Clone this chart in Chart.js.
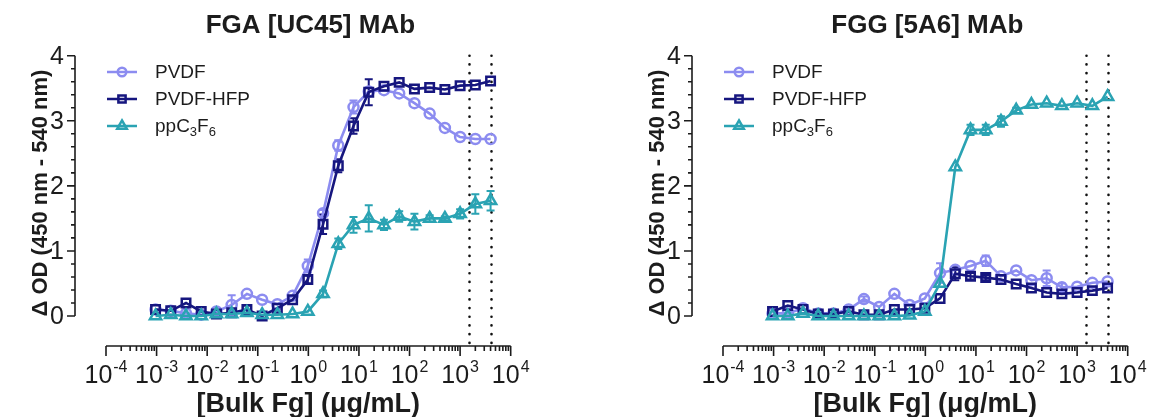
<!DOCTYPE html>
<html>
<head>
<meta charset="utf-8">
<script src="https://cdn.jsdelivr.net/npm/chart.js@4.4.1/dist/chart.umd.min.js"></script>
<style>
  body { margin: 0; background: #fff; width: 1151px; height: 417px; overflow: hidden; position: relative; }
  canvas { position: absolute; top: 0; }
</style>
</head>
<body>
<canvas id="chartFGA" width="534" height="417" style="left:0"></canvas>
<canvas id="chartFGG" width="534" height="417" style="left:617px"></canvas>
<script>
// concentrações (diluição 1:2 a partir de 4000 ug/mL)
const concentrations = [0.00095367, 0.0019073, 0.0038147, 0.0076294, 0.015259, 0.030518, 0.061035, 0.12207,
  0.24414, 0.48828, 0.97656, 1.9531, 3.9063, 7.8125, 15.625, 31.25, 62.5, 125, 250, 500, 1000, 2000, 4000];

const seriesNames = ['PVDF', 'PVDF-HFP', 'ppC3F6'];

// FGA [UC45] MAb
const fgaPvdf = [0.10, 0.08, 0.04, 0.02, 0.07, 0.17, 0.34, 0.25, 0.18, 0.31, 0.77, 1.58, 2.62, 3.21, 3.45, 3.47, 3.42, 3.27, 3.11, 2.89, 2.75, 2.72, 2.72];
const fgaPvdfErr = [0, 0, 0, 0, 0, 0.15, 0, 0, 0, 0, 0.1, 0.05, 0.08, 0.1, 0, 0, 0, 0, 0, 0, 0, 0, 0];
const fgaHfp = [0.10, 0.08, 0.20, 0.07, 0.03, 0.05, 0.10, 0.00, 0.12, 0.25, 0.56, 1.41, 2.31, 2.92, 3.44, 3.53, 3.59, 3.49, 3.51, 3.48, 3.54, 3.55, 3.61];
const fgaHfpErr = [0, 0, 0, 0, 0, 0, 0.06, 0, 0, 0, 0.06, 0.15, 0.1, 0.12, 0.2, 0, 0, 0, 0, 0, 0, 0, 0];
const fgaC3f6 = [0.0, 0.02, 0.0, 0.0, 0.03, 0.03, 0.05, 0.02, 0.02, 0.03, 0.07, 0.34, 1.11, 1.40, 1.50, 1.40, 1.53, 1.45, 1.50, 1.50, 1.57, 1.72, 1.77];
const fgaC3f6Err = [0, 0, 0, 0, 0, 0, 0, 0, 0, 0, 0, 0.05, 0.08, 0.12, 0.2, 0.08, 0.08, 0.12, 0.05, 0.03, 0.07, 0.15, 0.15];

// FGG [5A6] MAb
const fggPvdf = [0.04, 0.04, 0.12, 0.04, 0.04, 0.10, 0.26, 0.14, 0.34, 0.17, 0.27, 0.66, 0.71, 0.77, 0.85, 0.61, 0.70, 0.55, 0.58, 0.44, 0.45, 0.51, 0.53];
const fggPvdfErr = [0, 0, 0, 0, 0, 0, 0.04, 0, 0, 0, 0, 0.15, 0, 0, 0.08, 0, 0, 0, 0.12, 0.06, 0, 0, 0];
const fggHfp = [0.07, 0.16, 0.10, 0.03, 0.03, 0.07, 0.02, 0.02, 0.10, 0.10, 0.12, 0.27, 0.65, 0.61, 0.59, 0.56, 0.49, 0.43, 0.36, 0.34, 0.36, 0.39, 0.43];
const fggHfpErr = [0, 0, 0, 0, 0, 0, 0, 0, 0, 0, 0, 0, 0.1, 0.05, 0.04, 0, 0, 0, 0, 0, 0, 0, 0];
const fggC3f6 = [0.0, 0.0, 0.04, 0.0, 0.0, 0.0, 0.0, 0.0, 0.0, 0.01, 0.07, 0.50, 2.29, 2.86, 2.86, 2.99, 3.16, 3.25, 3.27, 3.23, 3.27, 3.23, 3.37];
const fggC3f6Err = [0, 0, 0, 0, 0, 0, 0, 0, 0, 0, 0, 0, 0, 0.08, 0.08, 0.08, 0.04, 0, 0, 0, 0, 0, 0];

const xTickExponents = [-4, -3, -2, -1, 0, 1, 2, 3, 4];
const yTicks = [0, 1, 2, 3, 4];
const physioRange = [1500, 4000]; // linhas pontilhadas

const COLORS = ['#8c8cf0', '#16167f', '#2aa3b3'];
const STYLES = ['circle', 'rect', 'triangle'];
const RADII = [5, 6, 6.5];
const FONT = '"Liberation Sans", Arial, sans-serif';
const INK = '#1c1c1c';

// desenha os eixos no estilo do Prism (eixos deslocados, ticks menores, expoentes)
const prismAxes = {
  id: 'prismAxes',
  beforeDatasetsDraw(chart, args, opts) {
    const ctx = chart.ctx;
    const xs = chart.scales.x, ys = chart.scales.y;
    const axisY = chart.chartArea.bottom + 30;

    // linhas pontilhadas
    ctx.save();
    ctx.strokeStyle = '#111';
    ctx.lineWidth = 2.6;
    ctx.lineCap = 'round';
    ctx.setLineDash([0.1, 8.6]);
    physioRange.forEach(v => {
      const px = Math.round(xs.getPixelForValue(v)) + 0.5;
      ctx.beginPath();
      ctx.moveTo(px, ys.getPixelForValue(4));
      ctx.lineTo(px, axisY);
      ctx.stroke();
    });
    ctx.restore();

    // barras de erro
    ctx.save();
    ctx.lineWidth = 2;
    chart.data.datasets.forEach((ds, i) => {
      const errs = opts.errors[i];
      ctx.strokeStyle = ds.borderColor;
      ds.data.forEach((p, j) => {
        const e = errs[j];
        if (!e) return;
        const px = xs.getPixelForValue(p.x);
        const top = ys.getPixelForValue(p.y + e);
        const bot = ys.getPixelForValue(p.y - e);
        ctx.beginPath();
        ctx.moveTo(px, top); ctx.lineTo(px, bot);
        ctx.moveTo(px - 4, top); ctx.lineTo(px + 4, top);
        ctx.moveTo(px - 4, bot); ctx.lineTo(px + 4, bot);
        ctx.stroke();
      });
    });
    ctx.restore();
  },
  afterDraw(chart, args, opts) {
    const ctx = chart.ctx;
    const area = chart.chartArea;
    const xs = chart.scales.x, ys = chart.scales.y;
    const axisX = area.left - 31;
    const axisY = area.bottom + 30;

    ctx.save();
    ctx.strokeStyle = INK;
    ctx.fillStyle = INK;
    ctx.lineWidth = 1.6;

    // eixo Y
    ctx.beginPath();
    ctx.moveTo(axisX, ys.getPixelForValue(0));
    ctx.lineTo(axisX, ys.getPixelForValue(4));
    for (let v = 0; v <= 4.001; v += 0.2) {
      const py = ys.getPixelForValue(v);
      const major = Math.abs(v - Math.round(v)) < 0.01;
      ctx.moveTo(axisX, py);
      ctx.lineTo(axisX - (major ? 8 : 4), py);
    }
    ctx.stroke();
    ctx.font = '25px ' + FONT;
    ctx.textAlign = 'right';
    ctx.textBaseline = 'middle';
    yTicks.forEach(v => ctx.fillText(String(v), axisX - 11, ys.getPixelForValue(v) + 1));

    // eixo X
    const x0 = xs.getPixelForValue(Math.pow(10, xTickExponents[0]));
    const x1 = xs.getPixelForValue(Math.pow(10, xTickExponents[xTickExponents.length - 1]));
    ctx.beginPath();
    ctx.moveTo(x0, axisY);
    ctx.lineTo(x1, axisY);
    xTickExponents.forEach((d, k) => {
      const px = xs.getPixelForValue(Math.pow(10, d));
      ctx.moveTo(px, axisY);
      ctx.lineTo(px, axisY + 10);
      if (k < xTickExponents.length - 1) {
        for (let m = 2; m <= 9; m++) {
          const mx = xs.getPixelForValue(m * Math.pow(10, d));
          ctx.moveTo(mx, axisY);
          ctx.lineTo(mx, axisY + 5);
        }
      }
    });
    ctx.stroke();

    ctx.textAlign = 'left';
    ctx.textBaseline = 'alphabetic';
    xTickExponents.forEach(d => {
      const px = xs.getPixelForValue(Math.pow(10, d));
      ctx.font = '25px ' + FONT;
      const wb = ctx.measureText('10').width;
      ctx.font = '16px ' + FONT;
      const exp = String(d);
      const we = ctx.measureText(exp).width;
      const start = px - (wb + we + 1) / 2;
      ctx.font = '25px ' + FONT;
      ctx.fillText('10', start, axisY + 37);
      ctx.font = '16px ' + FONT;
      ctx.fillText(exp, start + wb + 1, axisY + 26);
    });

    // títulos
    const cx = (area.left + area.right) / 2;
    ctx.textAlign = 'center';
    ctx.font = 'bold 26px ' + FONT;
    ctx.fillText(opts.title, cx + 2, 33);
    ctx.font = 'bold 27px ' + FONT;
    ctx.fillText('[Bulk Fg] (\u03bcg/mL)', cx, axisY + 66);
    ctx.save();
    ctx.translate(47, 193);
    ctx.rotate(-Math.PI / 2);
    ctx.font = 'bold 22px ' + FONT;
    ctx.fillText('\u0394 OD (450 nm - 540 nm)', 0, 0);
    ctx.restore();

    // legenda
    chart.data.datasets.forEach((ds, i) => {
      const ly = 72 + i * 27;
      const lx = area.left + 1;
      ctx.strokeStyle = ds.borderColor;
      ctx.lineWidth = 2.5;
      ctx.beginPath();
      ctx.moveTo(lx, ly);
      ctx.lineTo(lx + 30, ly);
      ctx.stroke();
      ctx.fillStyle = 'rgba(0,0,0,0)';
      Chart.helpers.drawPoint(ctx, { pointStyle: ds.pointStyle, radius: ds.pointRadius * 0.85, rotation: 0, borderWidth: 2.5 }, lx + 15, ly);
      // texto com subscritos
      ctx.fillStyle = INK;
      ctx.textAlign = 'left';
      ctx.textBaseline = 'middle';
      let tx = lx + 48;
      ds.label.split(/(\d)/).filter(s => s).forEach(part => {
        const sub = /^\d$/.test(part);
        ctx.font = (sub ? '13px ' : '19px ') + FONT;
        ctx.fillText(part, tx, ly + (sub ? 6 : 1));
        tx += ctx.measureText(part).width;
      });
    });
    ctx.restore();
  }
};

function makeChart(canvasId, title, series, errors) {
  const ctx = document.getElementById(canvasId);
  return new Chart(ctx, {
    type: 'line',
    data: {
      datasets: series.map((vals, i) => ({
        label: seriesNames[i],
        data: concentrations.map((c, j) => ({ x: c, y: vals[j] })),
        borderColor: COLORS[i],
        borderWidth: 2.6,
        pointStyle: STYLES[i],
        pointRadius: RADII[i],
        pointBorderWidth: 2.5,
        pointBorderColor: COLORS[i],
        pointBackgroundColor: 'rgba(0,0,0,0)',
        tension: 0,
        clip: false,
        order: 3 - i
      }))
    },
    options: {
      responsive: false,
      animation: false,
      devicePixelRatio: 1,
      layout: { padding: { left: 106, right: 23.3, top: 55.7, bottom: 101 } },
      scales: {
        x: { type: 'logarithmic', min: 1e-4, max: 1e4, display: false },
        y: { type: 'linear', min: 0, max: 4, display: false }
      },
      plugins: {
        legend: { display: false },
        tooltip: { enabled: false },
        prismAxes: { title: title, errors: errors }
      }
    },
    plugins: [prismAxes]
  });
}

makeChart('chartFGA', 'FGA [UC45] MAb', [fgaPvdf, fgaHfp, fgaC3f6], [fgaPvdfErr, fgaHfpErr, fgaC3f6Err]);
makeChart('chartFGG', 'FGG [5A6] MAb', [fggPvdf, fggHfp, fggC3f6], [fggPvdfErr, fggHfpErr, fggC3f6Err]);
</script>
</body>
</html>
